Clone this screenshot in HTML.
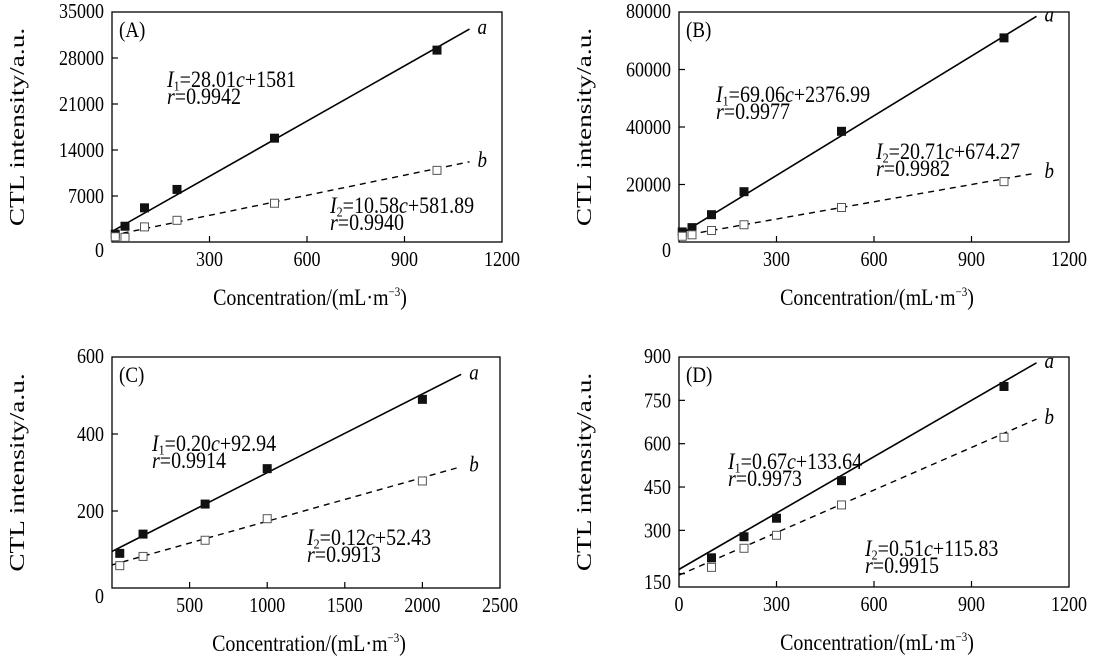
<!DOCTYPE html>
<html><head><meta charset="utf-8"><style>
body{margin:0;background:#fff;}
svg{display:block;font-family:"Liberation Serif",serif;}
</style></head><body>
<svg id="fig" width="1120" height="671" viewBox="0 0 1120 671"></svg>
<script>
// Panel A
const xA=[10,40,100,200,500,1000];
const aA=[1200,2400,5200,8000,15800,29200];
const bA=[800,700,2300,3300,5900,10900];
const lineAa=[[0,1600],[1100,32400]];
const lineAb=[[0,1000],[1100,12200]];
const yTicksA=[0,7000,14000,21000,28000,35000];
const xTicksA=[300,600,900,1200];
// Panel B
const xB=[10,40,100,200,500,1000];
const aB=[3500,5000,9500,17500,38500,71000];
const bB=[2000,2500,4000,6000,12000,21000];
const lineBa=[[0,2400],[1100,78500]];
const lineBb=[[0,2000],[1100,24000]];
const yTicksB=[0,20000,40000,60000,80000];
const xTicksB=[300,600,900,1200];
// Panel C
const xC=[50,200,600,1000,2000];
const aC=[90,140,218,310,490];
const bC=[58,82,124,180,278];
const lineCa=[[0,95],[2250,555]];
const lineCb=[[0,60],[2250,315]];
const yTicksC=[0,200,400,600];
const xTicksC=[500,1000,1500,2000,2500];
// Panel D
const xD=[100,200,300,500,1000];
const aD=[205,278,342,472,798];
const bD=[172,238,283,388,622];
const lineDa=[[0,165],[1100,880]];
const lineDb=[[0,145],[1100,685]];
const yTicksD=[150,300,450,600,750,900];
const xTicksD=[0,300,600,900,1200];

const NS="http://www.w3.org/2000/svg";
const svg=document.getElementById('fig');
const SY=1.15;
function mk(tag,attrs,parent,text){const e=document.createElementNS(NS,tag);for(const k in attrs)e.setAttribute(k,attrs[k]);if(text!==undefined)e.innerHTML=text;(parent||svg).appendChild(e);return e;}
function txt(parent,x,y,anchor,size,content,extra){
  const a={x:0,y:0,'text-anchor':anchor,'font-size':size,transform:'translate('+x+' '+y+') scale(1 '+SY+')'};
  if(extra)for(const k in extra)a[k]=extra[k];
  return mk('text',a,parent,content);
}

const panels=[
 {id:'a',L:112,T:12,W:390,H:230,xmin:0,xmax:1200,ymin:0,ymax:35000,xs:xA,as:aA,bs:bA,la:lineAa,lb:lineAb,yt:yTicksA,xt:xTicksA,lab:'(A)',
  e1:['28.01','1581','0.9942',167,87],e2:['10.58','581.89','0.9940',330,213]},
 {id:'b',L:679,T:12,W:390,H:230,xmin:0,xmax:1200,ymin:0,ymax:80000,xs:xB,as:aB,bs:bB,la:lineBa,lb:lineBb,yt:yTicksB,xt:xTicksB,lab:'(B)',
  e1:['69.06','2376.99','0.9977',716,102],e2:['20.71','674.27','0.9982',876,159]},
 {id:'c',L:112,T:357,W:388,H:231,xmin:0,xmax:2500,ymin:0,ymax:600,xs:xC,as:aC,bs:bC,la:lineCa,lb:lineCb,yt:yTicksC,xt:xTicksC,lab:'(C)',
  e1:['0.20','92.94','0.9914',152,451],e2:['0.12','52.43','0.9913',307,545]},
 {id:'d',L:679,T:357,W:390,H:230,xmin:0,xmax:1200,ymin:104,ymax:900,xs:xD,as:aD,bs:bD,la:lineDa,lb:lineDb,yt:yTicksD,xt:xTicksD,lab:'(D)',
  e1:['0.67','133.64','0.9973',728,469],e2:['0.51','115.83','0.9915',865,556]}
];

panels.forEach(p=>{
 const g=mk('g',{});
 
 
 const sx=v=>p.L+(v-p.xmin)/(p.xmax-p.xmin)*p.W;
 const sy=v=>p.T+p.H-(v-p.ymin)/(p.ymax-p.ymin)*p.H;
 const B=p.T+p.H;
 const box=mk('rect',{x:p.L,y:p.T,width:p.W,height:p.H,fill:'none',stroke:'#000','stroke-width':1.3},g);
 
 
 p.yt.forEach((t,i)=>{
  const y=sy(t);
  if(y>p.T+2&&y<B-2){
   const tk=mk('line',{x1:p.L,x2:p.L+6,y1:y,y2:y,stroke:'#000','stroke-width':1.2},g);
   
   
  }
  let ly=y+7;
  if(t===p.ymin&&p.ymin===0) ly=B+15;
  if(p.id==='d'&&t===150) ly=B+2;
  if(i===p.yt.length-1) ly=y+6;
  const tl=txt(g,p.L-8,ly,'end',18,String(t));
  
  
 });
 p.xt.forEach(t=>{
  const x=sx(t);
  if(t>p.xmin&&t<p.xmax){
   const tk=mk('line',{x1:x,x2:x,y1:B,y2:B-6,stroke:'#000','stroke-width':1.2},g);
   
   
  }
  const tl=txt(g,x,B+24,'middle',18,String(t));
  
  
 });
 const l1=mk('line',{x1:sx(p.la[0][0]),y1:sy(p.la[0][1]),x2:sx(p.la[1][0]),y2:sy(p.la[1][1]),stroke:'#000','stroke-width':1.6},g);
 
 
 const l2=mk('line',{x1:sx(p.lb[0][0]),y1:sy(p.lb[0][1]),x2:sx(p.lb[1][0]),y2:sy(p.lb[1][1]),stroke:'#000','stroke-width':1.4,'stroke-dasharray':'6,5'},g);
 
 
 const ta=txt(g,sx(p.la[1][0])+8,sy(p.la[1][1])+5,'start',19,'a',{'font-style':'italic'});
 
 
 const tb=txt(g,sx(p.lb[1][0])+8,sy(p.lb[1][1])+5,'start',19,'b',{'font-style':'italic'});
 
 
 p.xs.forEach((xv,i)=>{
  const m=mk('rect',{x:sx(xv)-4.5,y:sy(p.as[i])-4.5,width:9,height:9,fill:'#111'},g);
  
  
  const n=mk('rect',{x:sx(xv)-4,y:sy(p.bs[i])-4,width:8,height:8,fill:'#fff',stroke:'#555','stroke-width':1},g);
  
  
 });
 const pl=txt(g,p.L+7,p.T+25,'start',19,p.lab);
 
 
 [[p.e1,'1'],[p.e2,'2']].forEach(([e,s])=>{
  const t1=txt(g,e[3],e[4],'start',20,'<tspan font-style="italic">I</tspan><tspan font-size="12" dy="3">'+s+'</tspan><tspan dy="-3">='+e[0]+'</tspan><tspan font-style="italic">c</tspan>+'+e[1]);
  
  
  const t2=txt(g,e[3],e[4]+17,'start',20,'<tspan font-style="italic">r</tspan>='+e[2]);
  
  
 });
 const xt=txt(g,p.L+p.W/2+3,B+63,'middle',20,'Concentration/(mL·m<tspan font-size="11" dy="-8">−3</tspan><tspan dy="8">)</tspan>');
 
 
 const cy=p.T+p.H/2, cx=p.L-88;
 const yt=mk('text',{x:0,y:0,'text-anchor':'middle','font-size':21,transform:'translate('+cx+' '+cy+') rotate(-90) scale(1.3 1)'},g,'CTL intensity/a.u.');
 
 
});
</script>
</body></html>
